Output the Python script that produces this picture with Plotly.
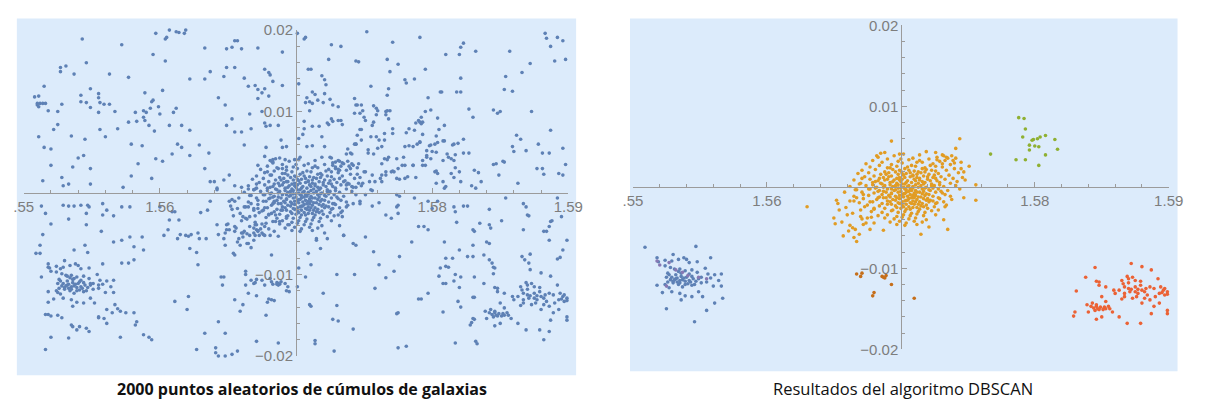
import plotly.graph_objects as go

# ---------------- DATA ----------------
# Cluster members (DBSCAN result, right panel) - also part of the 2000 points (left panel)
cluster_core = [
    (1.5688,0.0043),(1.5702,0.0041),(1.5719,0.0044),(1.5731,0.0040),
    (1.5683,0.0037),(1.5695,0.0039),(1.5709,0.0036),(1.5714,0.0040),(1.5727,0.0037),(1.5738,0.0039),
    (1.5679,0.0033),(1.5690,0.0035),(1.5698,0.0032),(1.5706,0.0034),(1.5712,0.0031),(1.5721,0.0035),(1.5733,0.0033),(1.5741,0.0036),
    (1.5674,0.0029),(1.5686,0.0031),(1.5693,0.0028),(1.5701,0.0030),(1.5708,0.0027),(1.5716,0.0031),(1.5724,0.0029),(1.5729,0.0032),(1.5737,0.0028),(1.5745,0.0031),
    (1.5677,0.0025),(1.5684,0.0027),(1.5690,0.0024),(1.5697,0.0026),(1.5703,0.0023),(1.5711,0.0026),(1.5718,0.0024),(1.5722,0.0027),(1.5731,0.0025),(1.5740,0.0023),
    (1.5671,0.0021),(1.5681,0.0022),(1.5688,0.0019),(1.5694,0.0022),(1.5700,0.0020),(1.5706,0.0021),(1.5713,0.0019),(1.5719,0.0022),(1.5726,0.0020),(1.5734,0.0021),(1.5747,0.0019),
    (1.5668,0.0017),(1.5676,0.0018),(1.5685,0.0016),(1.5691,0.0018),(1.5698,0.0016),(1.5704,0.0017),(1.5709,0.0015),(1.5715,0.0018),(1.5721,0.0016),(1.5728,0.0017),(1.5736,0.0015),(1.5743,0.0018),
    (1.5673,0.0013),(1.5680,0.0014),(1.5687,0.0012),(1.5693,0.0014),(1.5699,0.0012),(1.5702,0.0015),(1.5707,0.0013),(1.5712,0.0012),(1.5717,0.0014),(1.5724,0.0012),(1.5730,0.0013),(1.5739,0.0011),
    (1.5665,0.0009),(1.5677,0.0010),(1.5683,0.0008),(1.5690,0.0010),(1.5695,0.0009),(1.5701,0.0010),(1.5705,0.0008),(1.5710,0.0010),(1.5714,0.0009),(1.5720,0.0010),(1.5727,0.0008),(1.5733,0.0010),(1.5748,0.0009),
    (1.5670,0.0005),(1.5679,0.0006),(1.5686,0.0004),(1.5692,0.0006),(1.5697,0.0005),(1.5700,0.0007),(1.5703,0.0004),(1.5708,0.0006),(1.5713,0.0005),(1.5718,0.0006),(1.5723,0.0004),(1.5729,0.0006),(1.5737,0.0005),
    (1.5662,0.0001),(1.5674,0.0002),(1.5682,0.0000),(1.5688,0.0002),(1.5694,0.0001),(1.5698,0.0003),(1.5702,0.0000),(1.5706,0.0002),(1.5709,0.0001),(1.5715,0.0002),(1.5719,0.0000),(1.5725,0.0002),(1.5732,0.0001),(1.5741,0.0002),
    (1.5667,-0.0003),(1.5677,-0.0002),(1.5684,-0.0004),(1.5690,-0.0002),(1.5696,-0.0003),(1.5700,-0.0001),(1.5704,-0.0003),(1.5707,-0.0002),(1.5711,-0.0004),(1.5716,-0.0002),(1.5721,-0.0003),(1.5728,-0.0002),(1.5735,-0.0004),(1.5744,-0.0002),
    (1.5671,-0.0006),(1.5680,-0.0007),(1.5687,-0.0005),(1.5693,-0.0007),(1.5698,-0.0006),(1.5702,-0.0008),(1.5706,-0.0005),(1.5710,-0.0007),(1.5714,-0.0006),(1.5719,-0.0008),(1.5726,-0.0006),(1.5731,-0.0007),
    (1.5665,-0.0011),(1.5676,-0.0010),(1.5684,-0.0012),(1.5691,-0.0010),(1.5696,-0.0011),(1.5701,-0.0009),(1.5705,-0.0011),(1.5709,-0.0010),(1.5713,-0.0012),(1.5718,-0.0010),(1.5724,-0.0011),(1.5733,-0.0009),
    (1.5672,-0.0014),(1.5682,-0.0015),(1.5689,-0.0013),(1.5694,-0.0015),(1.5699,-0.0014),(1.5704,-0.0016),(1.5708,-0.0013),(1.5712,-0.0015),(1.5717,-0.0014),(1.5722,-0.0016),(1.5729,-0.0014),(1.5738,-0.0015),
    (1.5669,-0.0019),(1.5679,-0.0018),(1.5686,-0.0020),(1.5692,-0.0018),(1.5698,-0.0019),(1.5703,-0.0017),(1.5707,-0.0019),(1.5711,-0.0018),(1.5716,-0.0020),(1.5721,-0.0018),(1.5727,-0.0019),
    (1.5675,-0.0022),(1.5684,-0.0023),(1.5690,-0.0021),(1.5696,-0.0023),(1.5701,-0.0022),(1.5706,-0.0024),(1.5710,-0.0021),(1.5715,-0.0023),(1.5719,-0.0022),(1.5725,-0.0024),(1.5734,-0.0022),
    (1.5680,-0.0027),(1.5688,-0.0026),(1.5694,-0.0028),(1.5700,-0.0026),(1.5704,-0.0027),(1.5709,-0.0025),(1.5714,-0.0027),(1.5720,-0.0026),(1.5728,-0.0028),
    (1.5678,-0.0030),(1.5686,-0.0031),(1.5693,-0.0029),(1.5698,-0.0031),(1.5703,-0.0030),(1.5708,-0.0032),(1.5713,-0.0030),(1.5718,-0.0031),(1.5723,-0.0029),
    (1.5683,-0.0035),(1.5690,-0.0034),(1.5697,-0.0036),(1.5702,-0.0034),(1.5707,-0.0035),(1.5712,-0.0033),(1.5717,-0.0035),(1.5726,-0.0034),
    (1.5688,-0.0038),(1.5695,-0.0039),(1.5701,-0.0037),(1.5706,-0.0039),(1.5711,-0.0038),(1.5719,-0.0040),
    (1.5692,-0.0043),(1.5699,-0.0042),(1.5704,-0.0044),(1.5710,-0.0042),(1.5716,-0.0043),
    (1.5697,-0.0046),(1.5703,-0.0047),(1.5712,-0.0046),
]

cluster_core_dense = [
    (1.5692,0.0024),(1.5699,0.0021),(1.5705,0.0025),(1.5710,0.0020),(1.5716,0.0023),(1.5723,0.0021),
    (1.5689,0.0016),(1.5696,0.0019),(1.5701,0.0017),(1.5707,0.0018),(1.5712,0.0016),(1.5718,0.0019),(1.5725,0.0015),
    (1.5684,0.0011),(1.5691,0.0013),(1.5697,0.0011),(1.5703,0.0012),(1.5709,0.0014),(1.5714,0.0011),(1.5720,0.0013),(1.5726,0.0011),
    (1.5681,0.0007),(1.5688,0.0009),(1.5694,0.0007),(1.5699,0.0009),(1.5704,0.0006),(1.5711,0.0008),(1.5716,0.0007),(1.5722,0.0008),
    (1.5679,0.0003),(1.5685,0.0005),(1.5692,0.0003),(1.5696,0.0002),(1.5701,0.0004),(1.5705,0.0001),(1.5711,0.0003),(1.5717,0.0004),(1.5723,0.0002),(1.5729,0.0003),
    (1.5681,-0.0001),(1.5687,0.0000),(1.5693,-0.0002),(1.5698,-0.0001),(1.5703,-0.0002),(1.5709,-0.0001),(1.5713,0.0000),(1.5718,-0.0001),(1.5724,-0.0001),
    (1.5683,-0.0005),(1.5689,-0.0006),(1.5695,-0.0004),(1.5700,-0.0005),(1.5704,-0.0006),(1.5708,-0.0004),(1.5712,-0.0006),(1.5717,-0.0005),(1.5722,-0.0004),
    (1.5686,-0.0009),(1.5693,-0.0008),(1.5699,-0.0010),(1.5703,-0.0008),(1.5707,-0.0009),(1.5711,-0.0010),(1.5716,-0.0008),(1.5721,-0.0009),
    (1.5687,-0.0013),(1.5692,-0.0012),(1.5697,-0.0013),(1.5702,-0.0012),(1.5706,-0.0014),(1.5710,-0.0013),(1.5715,-0.0012),(1.5720,-0.0014),
    (1.5690,-0.0017),(1.5696,-0.0016),(1.5701,-0.0018),(1.5705,-0.0016),(1.5709,-0.0017),(1.5714,-0.0018),(1.5719,-0.0016),
    (1.5693,-0.0021),(1.5699,-0.0020),(1.5704,-0.0021),(1.5708,-0.0020),(1.5713,-0.0021),(1.5717,-0.0024),
    (1.5697,-0.0025),(1.5702,-0.0024),(1.5707,-0.0027),(1.5712,-0.0025),
    (1.5727,0.0034),(1.5731,0.0029),(1.5735,0.0036),(1.5726,0.0026),(1.5714,0.0033),(1.5700,0.0035),
]

cluster_core_outer = [
    (1.5650,-0.0038),(1.5651,-0.0045),(1.5656,-0.0043),(1.5657,-0.0060),(1.5665,-0.0062),(1.5667,-0.0067),
    (1.5669,-0.0058),(1.5662,-0.0047),(1.5664,-0.0050),(1.5670,-0.0036),(1.5671,-0.0039),(1.5672,-0.0046),
    (1.5674,-0.0044),(1.5675,-0.0038),(1.5678,-0.0037),(1.5680,-0.0044),(1.5677,-0.0052),(1.5687,-0.0053),
    (1.5715,-0.0058),(1.5721,-0.0049),(1.5735,-0.0052),(1.5732,-0.0040),(1.5733,-0.0024),(1.5732,-0.0018),
    (1.5737,-0.0011),(1.5670,-0.0028),(1.5673,-0.0024),(1.5680,-0.0026),(1.5677,-0.0018),(1.5683,-0.0013),
    (1.5630,-0.0024),(1.5653,-0.0020),(1.5659,-0.0025),(1.5662,-0.0017),(1.5665,-0.0017),(1.5658,-0.0006),
    (1.5666,-0.0003),(1.5669,0.0004),(1.5671,0.0011),(1.5693,0.0057),(1.5744,0.0060),(1.5741,0.0048),
    (1.5682,0.0039),(1.5685,0.0042),(1.5699,0.0041),(1.5726,0.0043),(1.5732,0.0039),(1.5734,0.0037),
    (1.5739,0.0033),(1.5740,0.0030),(1.5751,0.0026),(1.5745,0.0023),(1.5746,0.0012),(1.5742,0.0007),
    (1.5756,0.0003),(1.5747,-0.0013),(1.5756,-0.0016),(1.5730,-0.0005),(1.5728,-0.0013),(1.5726,-0.0020),
    (1.5724,-0.0017),(1.5654,-0.0028),(1.5660,-0.0034),(1.5652,-0.0016),(1.5667,-0.0013),(1.5672,-0.0009),
    (1.5676,-0.0002),(1.5664,-0.0032),(1.5666,-0.0052),(1.5661,-0.0054),
]

cluster_sw = [
    (1.5509,-0.0074),(1.5547,-0.0073),(1.5530,-0.0083),(1.5538,-0.0087),(1.5558,-0.0087),(1.5518,-0.0087),
    (1.5519,-0.0092),(1.5524,-0.0090),(1.5529,-0.0091),(1.5534,-0.0089),(1.5540,-0.0089),(1.5542,-0.0093),
    (1.5548,-0.0092),(1.5524,-0.0097),(1.5528,-0.0099),(1.5531,-0.0101),(1.5535,-0.0101),(1.5534,-0.0104),
    (1.5539,-0.0103),(1.5544,-0.0102),(1.5554,-0.0100),(1.5527,-0.0108),(1.5525,-0.0111),(1.5529,-0.0111),
    (1.5532,-0.0113),(1.5535,-0.0115),(1.5537,-0.0114),(1.5539,-0.0116),(1.5542,-0.0115),(1.5545,-0.0113),
    (1.5549,-0.0113),(1.5558,-0.0112),(1.5566,-0.0107),(1.5561,-0.0108),(1.5555,-0.0117),(1.5560,-0.0122),
    (1.5566,-0.0122),(1.5518,-0.0121),(1.5524,-0.0120),(1.5527,-0.0124),(1.5541,-0.0119),(1.5544,-0.0121),
    (1.5546,-0.0120),(1.5537,-0.0123),(1.5534,-0.0120),(1.5522,-0.0130),(1.5529,-0.0129),(1.5535,-0.0131),
    (1.5549,-0.0129),(1.5539,-0.0134),(1.5544,-0.0135),(1.5536,-0.0139),(1.5552,-0.0135),(1.5567,-0.0137),
    (1.5561,-0.0143),(1.5525,-0.0150),(1.5555,-0.0152),(1.5546,-0.0166),(1.5530,-0.0118),(1.5535,-0.0118),
    (1.5551,-0.0118),(1.5526,-0.0106),(1.5532,-0.0108),(1.5542,-0.0107),(1.5556,-0.0107),(1.5564,-0.0115),
    (1.5531,-0.0114),(1.5533,-0.0112),(1.5536,-0.0110),(1.5538,-0.0112),(1.5540,-0.0111),(1.5543,-0.0117),
    (1.5547,-0.0116),(1.5530,-0.0116),(1.5528,-0.0114),(1.5551,-0.0111),(1.5539,-0.0120),(1.5533,-0.0117),
    (1.5544,-0.0110),(1.5526,-0.0117),(1.5536,-0.0106),(1.5548,-0.0105),
]

cluster_sw_b = [
    (1.5518,-0.0091),(1.5520,-0.0096),(1.5527,-0.0093),(1.5532,-0.0102),(1.5537,-0.0105),
    (1.5541,-0.0109),(1.5549,-0.0111),(1.5525,-0.0122),(1.5555,-0.0113),
]

cluster_se = [
    (1.5845,-0.0099),(1.5872,-0.0094),(1.5880,-0.0098),(1.5887,-0.0102),(1.5838,-0.0111),(1.5846,-0.0116),
    (1.5848,-0.0117),(1.5848,-0.0121),(1.5869,-0.0110),(1.5870,-0.0113),(1.5873,-0.0111),(1.5875,-0.0115),
    (1.5866,-0.0119),(1.5867,-0.0123),(1.5870,-0.0125),(1.5875,-0.0123),(1.5879,-0.0121),(1.5880,-0.0127),
    (1.5883,-0.0125),(1.5886,-0.0123),(1.5889,-0.0125),(1.5892,-0.0113),(1.5894,-0.0123),(1.5896,-0.0127),
    (1.5897,-0.0125),(1.5899,-0.0129),(1.5899,-0.0132),(1.5893,-0.0131),(1.5890,-0.0135),(1.5884,-0.0133),
    (1.5882,-0.0137),(1.5877,-0.0131),(1.5875,-0.0129),(1.5871,-0.0129),(1.5867,-0.0131),(1.5863,-0.0127),
    (1.5860,-0.0131),(1.5859,-0.0127),(1.5853,-0.0123),(1.5831,-0.0128),(1.5850,-0.0135),(1.5853,-0.0141),
    (1.5843,-0.0143),(1.5846,-0.0147),(1.5849,-0.0148),(1.5852,-0.0148),(1.5855,-0.0147),(1.5856,-0.0150),
    (1.5848,-0.0151),(1.5845,-0.0152),(1.5840,-0.0154),(1.5850,-0.0160),(1.5846,-0.0163),(1.5830,-0.0154),
    (1.5829,-0.0159),(1.5863,-0.0160),(1.5869,-0.0168),(1.5879,-0.0168),(1.5887,-0.0156),(1.5889,-0.0147),
    (1.5893,-0.0143),(1.5899,-0.0156),(1.5899,-0.0152),(1.5880,-0.0143),(1.5886,-0.0139),(1.5873,-0.0137),
    (1.5876,-0.0135),(1.5865,-0.0138),(1.5867,-0.0135),(1.5858,-0.0154),(1.5839,-0.0145),(1.5842,-0.0147),
    (1.5870,-0.0118),(1.5865,-0.0115),(1.5879,-0.0116),(1.5844,-0.0149),(1.5847,-0.0150),(1.5851,-0.0151),
    (1.5853,-0.0150),(1.5846,-0.0145),(1.5872,-0.0126),(1.5877,-0.0126),(1.5882,-0.0129),(1.5895,-0.0130),
    (1.5897,-0.0133),
]

cluster_ne = [
    (1.5788,0.0086),(1.5792,0.0085),(1.5793,0.0072),(1.5791,0.0062),(1.5799,0.0059),(1.5798,0.0058),
    (1.5802,0.0060),(1.5804,0.0062),(1.5808,0.0064),(1.5815,0.0059),(1.5817,0.0047),(1.5808,0.0040),
    (1.5803,0.0050),(1.5800,0.0051),(1.5796,0.0046),(1.5796,0.0052),(1.5793,0.0034),(1.5786,0.0034),
    (1.5767,0.0041),(1.5803,0.0027),
]

cluster_small = [
    (1.5667,-0.0107),(1.5671,-0.0106),(1.5670,-0.0110),(1.5686,-0.0110),(1.5688,-0.0112),(1.5689,-0.0109),
    (1.5687,-0.0111),(1.5693,-0.0120),(1.5680,-0.0130),(1.5679,-0.0134),(1.5710,-0.0137),
]

# Noise points (only in the left panel)
noise_nw = [
    (1.5590,0.0201),(1.5597,0.0196),(1.5604,0.0189),(1.5605,0.0191),(1.5607,0.0200),(1.5610,0.0201),
    (1.5612,0.0198),(1.5614,0.0197),(1.5619,0.0200),(1.5618,0.0196),(1.5543,0.0189),(1.5572,0.0182),
    (1.5595,0.0170),(1.5604,0.0162),(1.5633,0.0178),(1.5649,0.0177),(1.5653,0.0179),(1.5655,0.0187),
    (1.5657,0.0187),(1.5660,0.0177),(1.5672,0.0178),(1.5690,0.0173),(1.5546,0.0160),(1.5527,0.0154),
    (1.5531,0.0156),(1.5527,0.0149),(1.5537,0.0146),(1.5563,0.0146),(1.5577,0.0142),(1.5622,0.0140),
    (1.5633,0.0140),(1.5637,0.0149),(1.5647,0.0143),(1.5649,0.0154),(1.5655,0.0154),(1.5662,0.0141),
    (1.5677,0.0152),(1.5680,0.0148),(1.5681,0.0145),(1.5683,0.0137),(1.5690,0.0132),(1.5665,0.0131),
    (1.5670,0.0132),(1.5672,0.0127),(1.5675,0.0123),(1.5677,0.0128),
    (1.5508,0.0118),(1.5511,0.0119),(1.5510,0.0110),(1.5510,0.0108),(1.5512,0.0110),(1.5514,0.0110),
    (1.5516,0.0110),(1.5511,0.0106),(1.5515,0.0131),(1.5518,0.0101),(1.5525,0.0100),(1.5528,0.0109),
    (1.5525,0.0084),(1.5522,0.0078),(1.5511,0.0069),(1.5515,0.0056),(1.5520,0.0054),(1.5520,0.0034),
    (1.5514,0.0015),(1.5528,0.0019),(1.5529,0.0009),(1.5533,0.0011),(1.5536,0.0032),(1.5535,0.0070),
    (1.5540,0.0043),(1.5544,0.0046),(1.5545,0.0066),(1.5549,0.0030),(1.5549,0.0011),(1.5542,0.0120),
    (1.5542,0.0112),(1.5546,0.0111),(1.5549,0.0105),(1.5549,0.0128),(1.5555,0.0122),(1.5555,0.0117),
    (1.5556,0.0111),(1.5555,0.0099),(1.5556,0.0078),(1.5559,0.0109),(1.5563,0.0109),(1.5567,0.0100),
    (1.5569,0.0079),(1.5560,0.0069),(1.5577,0.0087),(1.5579,0.0060),(1.5582,0.0099),(1.5584,0.0036),
    (1.5587,0.0058),(1.5583,0.0088),(1.5588,0.0101),(1.5589,0.0123),(1.5588,0.0093),(1.5589,0.0089),
    (1.5590,0.0099),(1.5593,0.0104),(1.5595,0.0114),(1.5594,0.0112),(1.5592,0.0083),(1.5596,0.0076),
    (1.5599,0.0106),(1.5600,0.0097),(1.5602,0.0126),(1.5607,0.0083),(1.5610,0.0099),(1.5612,0.0104),
    (1.5613,0.0060),(1.5616,0.0083),(1.5616,0.0056),(1.5622,0.0077),(1.5622,0.0046),(1.5579,0.0021),
    (1.5573,0.0007),(1.5594,0.0018),(1.5597,0.0042),(1.5602,0.0039),(1.5609,0.0048),(1.5629,0.0059),
    (1.5633,0.0030),(1.5636,0.0049),(1.5640,0.0014),(1.5642,0.0006),(1.5643,0.0117),(1.5648,0.0108),
    (1.5649,0.0083),(1.5653,0.0091),(1.5655,0.0075),(1.5660,0.0075),(1.5662,0.0059),(1.5666,0.0097),
    (1.5667,0.0079),(1.5672,0.0116),(1.5675,0.0100),(1.5680,0.0119),(1.5677,0.0086),(1.5678,0.0082),
    (1.5681,0.0083),(1.5687,0.0083),(1.5678,0.0056),(1.5683,0.0041),(1.5689,0.0065),(1.5690,0.0056),
    (1.5692,0.0041),(1.5682,0.0022),(1.5687,0.0030),(1.5690,0.0030),(1.5693,0.0032),(1.5694,0.0014),
    (1.5637,0.0014),(1.5642,0.0004),(1.5647,0.0016),(1.5651,0.0022),(1.5655,0.0009),(1.5660,0.0007),
    (1.5665,0.0005),(1.5669,0.0004),(1.5671,0.0006),(1.5679,0.0026),(1.5672,0.0034),(1.5677,0.0045),
    (1.5681,0.0040),(1.5683,0.0038),
]

noise_ne = [
    (1.5701,0.0196),(1.5706,0.0189),(1.5707,0.0191),(1.5752,0.0198),(1.5726,0.0182),(1.5733,0.0180),
    (1.5771,0.0185),(1.5791,0.0191),(1.5810,0.0170),(1.5820,0.0170),(1.5821,0.0179),(1.5823,0.0184),
    (1.5832,0.0174),(1.5857,0.0174),(1.5883,0.0196),(1.5884,0.0190),(1.5887,0.0180),(1.5892,0.0191),
    (1.5896,0.0187),(1.5890,0.0162),(1.5898,0.0164),(1.5872,0.0159),(1.5724,0.0164),(1.5744,0.0162),
    (1.5746,0.0161),(1.5767,0.0164),(1.5769,0.0149),(1.5775,0.0158),(1.5702,0.0134),(1.5709,0.0152),
    (1.5711,0.0152),(1.5719,0.0144),(1.5721,0.0139),(1.5722,0.0133),(1.5755,0.0131),(1.5768,0.0128),
    (1.5767,0.0120),(1.5780,0.0139),(1.5781,0.0135),(1.5787,0.0140),(1.5795,0.0152),(1.5807,0.0124),
    (1.5818,0.0124),(1.5821,0.0124),(1.5821,0.0141),(1.5854,0.0143),(1.5853,0.0127),(1.5859,0.0125),
    (1.5866,0.0148),
    (1.5712,0.0124),(1.5714,0.0121),(1.5708,0.0117),(1.5707,0.0111),(1.5710,0.0112),(1.5712,0.0110),
    (1.5710,0.0101),(1.5716,0.0114),(1.5720,0.0111),(1.5721,0.0122),(1.5725,0.0115),(1.5727,0.0108),
    (1.5731,0.0106),(1.5726,0.0091),(1.5727,0.0088),(1.5731,0.0089),(1.5733,0.0089),(1.5734,0.0084),
    (1.5723,0.0086),(1.5724,0.0084),(1.5717,0.0082),(1.5712,0.0082),(1.5706,0.0088),(1.5706,0.0079),
    (1.5708,0.0057),(1.5712,0.0058),(1.5702,0.0067),(1.5705,0.0072),(1.5703,0.0044),(1.5719,0.0069),
    (1.5721,0.0057),(1.5725,0.0044),(1.5729,0.0038),
    (1.5743,0.0116),(1.5744,0.0108),(1.5745,0.0108),(1.5748,0.0108),(1.5749,0.0101),(1.5743,0.0098),
    (1.5747,0.0098),(1.5750,0.0093),(1.5751,0.0089),(1.5747,0.0078),(1.5748,0.0078),(1.5745,0.0071),
    (1.5748,0.0065),(1.5743,0.0060),(1.5744,0.0060),(1.5738,0.0054),(1.5740,0.0049),(1.5737,0.0048),
    (1.5757,0.0107),(1.5759,0.0104),(1.5760,0.0101),(1.5759,0.0096),(1.5757,0.0087),(1.5756,0.0083),
    (1.5759,0.0069),(1.5761,0.0065),(1.5755,0.0069),(1.5753,0.0053),(1.5753,0.0049),(1.5757,0.0048),
    (1.5760,0.0055),(1.5763,0.0057),(1.5765,0.0065),(1.5765,0.0073),(1.5766,0.0100),(1.5767,0.0101),
    (1.5769,0.0101),(1.5768,0.0091),(1.5766,0.0096),(1.5771,0.0079),(1.5771,0.0073),(1.5765,0.0042),
    (1.5768,0.0044),(1.5763,0.0036),(1.5766,0.0026),(1.5771,0.0027),(1.5772,0.0026),(1.5778,0.0034),
    (1.5775,0.0030),(1.5774,0.0042),(1.5779,0.0044),(1.5781,0.0074),(1.5783,0.0079),(1.5787,0.0077),
    (1.5780,0.0057),(1.5783,0.0058),(1.5786,0.0057),(1.5789,0.0060),(1.5791,0.0063),(1.5790,0.0089),
    (1.5791,0.0087),(1.5793,0.0087),(1.5792,0.0093),(1.5795,0.0100),(1.5797,0.0117),(1.5799,0.0102),
    (1.5804,0.0092),(1.5805,0.0078),(1.5809,0.0083),(1.5806,0.0124),(1.5803,0.0070),(1.5809,0.0064),
    (1.5816,0.0060),(1.5819,0.0061),(1.5823,0.0066),(1.5823,0.0049),(1.5827,0.0049),(1.5830,0.0093),
    (1.5827,0.0103),
    (1.5845,0.0102),(1.5848,0.0098),(1.5850,0.0100),(1.5862,0.0071),(1.5865,0.0066),(1.5869,0.0052),
    (1.5859,0.0057),(1.5860,0.0051),(1.5878,0.0060),(1.5881,0.0049),(1.5886,0.0049),(1.5887,0.0077),
    (1.5873,0.0100),(1.5896,0.0055),(1.5898,0.0035),(1.5877,0.0030),(1.5881,0.0030),(1.5882,0.0023),
    (1.5893,0.0024),(1.5896,0.0022),(1.5845,0.0035),(1.5847,0.0036),(1.5852,0.0039),(1.5853,0.0038),
    (1.5849,0.0022),(1.5831,0.0028),(1.5834,0.0025),(1.5836,0.0014),(1.5829,0.0009),(1.5832,0.0006),
    (1.5863,0.0012),(1.5811,0.0048),(1.5812,0.0044),(1.5814,0.0042),(1.5816,0.0040),(1.5817,0.0031),
    (1.5814,0.0024),(1.5820,0.0026),(1.5821,0.0014),(1.5816,0.0019),(1.5808,0.0014),(1.5803,0.0012),
    (1.5802,0.0026),(1.5795,0.0034),(1.5793,0.0040),(1.5799,0.0042),(1.5796,0.0044),(1.5804,0.0024),
    (1.5788,0.0019),(1.5786,0.0034),(1.5780,0.0034),
    (1.5742,0.0034),(1.5746,0.0036),(1.5750,0.0026),(1.5756,0.0022),(1.5762,0.0018),(1.5763,0.0022),
    (1.5774,-0.0002),
]

noise_center_low = [
    (1.5600,-0.0017),(1.5609,-0.0023),(1.5607,-0.0033),(1.5611,-0.0023),(1.5614,-0.0033),(1.5606,-0.0045),
    (1.5603,-0.0052),(1.5613,-0.0056),(1.5615,-0.0051),(1.5619,-0.0052),(1.5621,-0.0053),(1.5623,-0.0051),
    (1.5628,-0.0049),(1.5629,-0.0056),(1.5622,-0.0068),(1.5627,-0.0073),(1.5628,-0.0088),(1.5634,-0.0056),
    (1.5635,-0.0021),(1.5637,-0.0010),(1.5642,-0.0039),(1.5643,-0.0051),(1.5647,-0.0056),(1.5648,-0.0064),
    (1.5649,-0.0039),(1.5649,-0.0045),(1.5648,-0.0049),(1.5651,-0.0010),(1.5653,-0.0008),(1.5655,-0.0010),
    (1.5655,-0.0041),(1.5655,-0.0047),(1.5657,-0.0019),(1.5658,-0.0056),(1.5659,-0.0064),(1.5660,-0.0049),
    (1.5661,-0.0049),(1.5663,-0.0017),(1.5663,-0.0031),(1.5664,-0.0062),(1.5666,-0.0041),(1.5669,-0.0043),
    (1.5670,-0.0039),(1.5671,-0.0045),(1.5672,-0.0047),(1.5669,-0.0049),(1.5670,-0.0052),(1.5673,-0.0052),
    (1.5675,-0.0049),(1.5677,-0.0041),(1.5676,-0.0051),(1.5681,-0.0052),(1.5684,-0.0047),(1.5682,-0.0076),
    (1.5661,-0.0029),(1.5666,-0.0029),(1.5669,-0.0021),(1.5672,-0.0019),(1.5676,-0.0021),(1.5678,-0.0010),
    (1.5681,-0.0006),(1.5684,-0.0010),(1.5682,-0.0025),(1.5685,-0.0027),(1.5685,-0.0035),(1.5688,-0.0035),
    (1.5689,-0.0021),(1.5693,-0.0031),(1.5694,-0.0039),(1.5654,-0.0074),(1.5655,-0.0076),(1.5663,-0.0096),
    (1.5663,-0.0100),
    (1.5727,-0.0013),(1.5731,-0.0027),(1.5734,-0.0029),(1.5737,-0.0017),(1.5742,-0.0013),(1.5747,-0.0010),
    (1.5751,-0.0002),(1.5755,0.0004),(1.5761,-0.0012),(1.5766,-0.0027),(1.5770,-0.0031),(1.5775,-0.0025),
    (1.5774,-0.0017),(1.5775,-0.0015),(1.5776,-0.0004),(1.5787,-0.0006),(1.5797,-0.0010),(1.5804,-0.0010),
    (1.5800,-0.0019),(1.5809,0.0006),(1.5810,0.0008),(1.5782,0.0020),(1.5780,0.0018),(1.5776,0.0017),
    (1.5774,0.0018),(1.5770,0.0026),(1.5766,0.0022),(1.5763,0.0014),(1.5758,0.0014),(1.5754,0.0014),
    (1.5749,0.0012),(1.5744,0.0007),(1.5741,0.0008),(1.5737,0.0010),(1.5735,0.0014),(1.5732,0.0018),
    (1.5732,0.0028),(1.5729,0.0030),(1.5738,0.0012),(1.5723,-0.0056),(1.5715,-0.0056),(1.5709,-0.0074),
    (1.5718,-0.0068),(1.5735,-0.0052),(1.5742,-0.0062),(1.5744,-0.0064),(1.5751,-0.0054),(1.5757,-0.0072),
    (1.5761,-0.0088),(1.5772,-0.0096),(1.5776,-0.0078),(1.5785,-0.0060),(1.5790,-0.0041),(1.5794,-0.0041),
    (1.5797,-0.0045),(1.5809,-0.0060),(1.5810,-0.0080),(1.5806,-0.0092),(1.5766,-0.0104),(1.5743,-0.0100),
    (1.5730,-0.0100),(1.5711,-0.0088),(1.5702,-0.0092),
]

noise_se = [
    (1.5816,-0.0017),(1.5817,-0.0023),(1.5826,-0.0016),(1.5823,-0.0016),(1.5818,-0.0036),(1.5830,-0.0045),
    (1.5831,-0.0047),(1.5835,-0.0037),(1.5842,-0.0039),(1.5843,-0.0043),(1.5842,-0.0020),(1.5854,-0.0006),
    (1.5851,-0.0034),(1.5867,-0.0013),(1.5869,-0.0017),(1.5870,-0.0027),(1.5871,-0.0028),(1.5867,-0.0045),
    (1.5882,-0.0047),(1.5884,-0.0047),(1.5886,-0.0041),(1.5887,-0.0035),(1.5888,-0.0034),(1.5892,-0.0006),
    (1.5886,-0.0058),(1.5899,-0.0058),(1.5895,-0.0029),(1.5830,-0.0064),(1.5840,-0.0060),(1.5842,-0.0062),
    (1.5830,-0.0078),(1.5820,-0.0070),(1.5826,-0.0078),(1.5815,-0.0080),(1.5810,-0.0090),(1.5805,-0.0102),
    (1.5808,-0.0111),(1.5810,-0.0111),(1.5816,-0.0108),(1.5817,-0.0100),(1.5821,-0.0103),(1.5812,-0.0091),
    (1.5819,-0.0133),(1.5821,-0.0140),(1.5820,-0.0116),(1.5831,-0.0103),(1.5830,-0.0128),(1.5838,-0.0076),
    (1.5842,-0.0082),(1.5844,-0.0086),(1.5845,-0.0091),(1.5846,-0.0092),(1.5866,-0.0078),(1.5871,-0.0086),
    (1.5872,-0.0075),(1.5868,-0.0082),(1.5892,-0.0081),(1.5894,-0.0079),(1.5896,-0.0070),(1.5831,-0.0155),
    (1.5828,-0.0162),(1.5832,-0.0182),(1.5833,-0.0185),(1.5817,-0.0184),(1.5781,-0.0188),(1.5775,-0.0190),
    (1.5728,-0.0194),(1.5714,-0.0181),(1.5714,-0.0185),(1.5882,-0.0180),(1.5886,-0.0170),
    (1.5758,-0.0117),(1.5730,-0.0138),(1.5727,-0.0155),(1.5731,-0.0157),(1.5742,-0.0167),(1.5711,-0.0139),
    (1.5720,-0.0123),(1.5701,-0.0115),(1.5775,-0.0147),(1.5774,-0.0148),(1.5790,-0.0130),(1.5792,-0.0130),
    (1.5797,-0.0123),(1.5808,-0.0146),(1.5707,-0.0103),
]

noise_sw = [
    (1.5513,-0.0016),(1.5516,-0.0025),(1.5529,-0.0015),(1.5533,-0.0016),(1.5537,-0.0016),(1.5542,-0.0015),
    (1.5547,-0.0015),(1.5546,-0.0025),(1.5548,-0.0017),(1.5558,-0.0013),(1.5558,-0.0027),(1.5561,-0.0021),
    (1.5566,-0.0028),(1.5572,-0.0017),(1.5578,-0.0017),(1.5512,-0.0064),(1.5512,-0.0074),(1.5514,-0.0051),
    (1.5520,-0.0038),(1.5533,-0.0032),(1.5546,-0.0039),(1.5557,-0.0047),(1.5566,-0.0060),(1.5572,-0.0058),
    (1.5578,-0.0054),(1.5581,-0.0066),(1.5587,-0.0054),(1.5588,-0.0070),(1.5577,-0.0086),(1.5581,-0.0082),
    (1.5572,-0.0086),(1.5545,-0.0064),(1.5537,-0.0070),(1.5513,-0.0103),(1.5518,-0.0134),(1.5520,-0.0151),
    (1.5516,-0.0149),(1.5518,-0.0149),(1.5528,-0.0153),(1.5535,-0.0162),(1.5536,-0.0164),(1.5539,-0.0168),
    (1.5533,-0.0178),(1.5541,-0.0164),(1.5548,-0.0170),(1.5555,-0.0153),(1.5559,-0.0154),(1.5561,-0.0160),
    (1.5565,-0.0147),(1.5569,-0.0142),(1.5571,-0.0145),(1.5575,-0.0147),(1.5581,-0.0147),(1.5583,-0.0158),
    (1.5582,-0.0162),(1.5571,-0.0177),(1.5588,-0.0174),(1.5592,-0.0177),(1.5594,-0.0180),(1.5520,-0.0177),
    (1.5516,-0.0192),
    (1.5611,-0.0133),(1.5621,-0.0127),(1.5620,-0.0143),(1.5627,-0.0192),(1.5633,-0.0172),(1.5641,-0.0190),
    (1.5641,-0.0196),(1.5643,-0.0200),(1.5648,-0.0200),(1.5653,-0.0198),(1.5657,-0.0194),(1.5648,-0.0172),
    (1.5643,-0.0158),(1.5655,-0.0131),(1.5659,-0.0145),(1.5661,-0.0137),(1.5665,-0.0123),(1.5671,-0.0126),
    (1.5678,-0.0150),(1.5682,-0.0131),(1.5684,-0.0132),(1.5687,-0.0184),(1.5671,-0.0182),(1.5677,-0.0113),
    (1.5682,-0.0109),(1.5647,-0.0103),(1.5646,-0.0113),(1.5645,-0.0103),(1.5663,-0.0113),(1.5669,-0.0111),
    (1.5675,-0.0107),(1.5681,-0.0105),(1.5687,-0.0113),(1.5692,-0.0111),(1.5694,-0.0115),(1.5695,-0.0121),
    (1.5683,-0.0112),(1.5686,-0.0112),
]

x_tickvals = [1.55, 1.56, 1.58, 1.59]
x_ticktext = [".55", "1.56", "1.58", "1.59"]
y_tickvals = [-0.02, -0.01, 0.01, 0.02]
y_ticktext = ["\u22120.02", "\u22120.01", "0.01", "0.02"]

left_caption = "2000 puntos aleatorios de cúmulos de galaxias"
right_caption = "Resultados del algoritmo DBSCAN"

# ---------------- FIGURE ----------------
W, H = 1218, 410
C_BLUE, C_ORANGE, C_GREEN, C_RED, C_PURPLE, C_DKOR = (
    "#5E81B5", "#E19C24", "#8FB032", "#EB6235", "#8778B3", "#C56E1A")


def xs(pts):
    return [p[0] for p in pts]


def ys(pts):
    return [p[1] for p in pts]


orange_all = cluster_core + cluster_core_dense + cluster_core_outer
all_left = (noise_nw + noise_ne + noise_center_low + noise_se + noise_sw +
            orange_all + cluster_sw + cluster_sw_b +
            cluster_se + cluster_ne + cluster_small)

fig = go.Figure()
mk = dict(size=3.6, line=dict(width=0))
fig.add_trace(go.Scatter(x=xs(all_left), y=ys(all_left), mode="markers",
                         marker=dict(color=C_BLUE, **mk), xaxis="x", yaxis="y",
                         cliponaxis=False, hoverinfo="skip", showlegend=False))

right_sets = [
    (orange_all, C_ORANGE),
    (cluster_sw, C_BLUE),
    (cluster_sw_b, C_PURPLE),
    (cluster_se, C_RED),
    (cluster_ne, C_GREEN),
    (cluster_small, C_DKOR),
]
for pts, col in right_sets:
    fig.add_trace(go.Scatter(x=xs(pts), y=ys(pts), mode="markers",
                             marker=dict(color=col, **mk), xaxis="x2", yaxis="y2",
                             cliponaxis=False, hoverinfo="skip", showlegend=False))

AX = "#9b9b9b"
tickfont = dict(family="Liberation Sans, Arial, sans-serif", size=15, color="#7d7d7d")


def xaxis(dom, pos):
    return dict(domain=dom, range=[1.55, 1.59], anchor="free", position=pos,
                showgrid=False, zeroline=False, showline=True, linecolor=AX, linewidth=1,
                tickmode="array", tickvals=x_tickvals, ticktext=x_ticktext,
                ticks="inside", ticklen=5, tickcolor=AX, tickwidth=1, tickfont=tickfont,
                minor=dict(ticks="inside", ticklen=3, tickcolor=AX, tickmode="linear",
                           tick0=1.55, dtick=0.002),
                fixedrange=True)


def yaxis(dom, pos):
    return dict(domain=dom, range=[-0.02, 0.02], anchor="free", position=pos,
                showgrid=False, zeroline=False, showline=True, linecolor=AX, linewidth=1,
                tickmode="array", tickvals=y_tickvals, ticktext=y_ticktext,
                ticks="inside", ticklen=5, tickcolor=AX, tickwidth=1, tickfont=tickfont,
                minor=dict(ticks="inside", ticklen=3, tickcolor=AX, tickmode="linear",
                           tick0=0, dtick=0.002),
                fixedrange=True)


lx_dom = [14 / W, 570 / W]
ly_dom = [1 - 362 / H, 1 - 22 / H]
rx_dom = [636 / W, 1183 / W]
ry_dom = [1 - 355 / H, 1 - 17 / H]

fig.update_layout(
    width=W, height=H, margin=dict(l=0, r=0, t=0, b=0),
    paper_bgcolor="white", plot_bgcolor="rgba(0,0,0,0)",
    xaxis=xaxis(lx_dom, 1 - 192 / H),
    yaxis=yaxis(ly_dom, 292 / W),
    xaxis2=xaxis(rx_dom, 1 - 186 / H),
    yaxis2=yaxis(ry_dom, 910 / W),
    shapes=[
        dict(type="rect", xref="paper", yref="paper", x0=7 / W, x1=578 / W,
             y0=1 - 382 / H, y1=1 - 10 / H, fillcolor="#DCEBFB", line=dict(width=0), layer="below"),
        dict(type="rect", xref="paper", yref="paper", x0=633 / W, x1=1192 / W,
             y0=1 - 378 / H, y1=1 - 10 / H, fillcolor="#DCEBFB", line=dict(width=0), layer="below"),
    ],
    annotations=[
        dict(text="<b>" + left_caption + "</b>", xref="paper", yref="paper",
             x=298 / W, y=0, xanchor="center", yanchor="bottom", showarrow=False,
             font=dict(family="Open Sans, sans-serif", size=16, color="#111111")),
        dict(text=right_caption, xref="paper", yref="paper",
             x=912 / W, y=0, xanchor="center", yanchor="bottom", showarrow=False,
             font=dict(family="Open Sans, sans-serif", size=16.5, color="#111111")),
    ],
)

fig.write_html("out.html", config={"displayModeBar": False},
               post_script="document.body.style.margin='0';document.body.style.overflow='hidden';")
